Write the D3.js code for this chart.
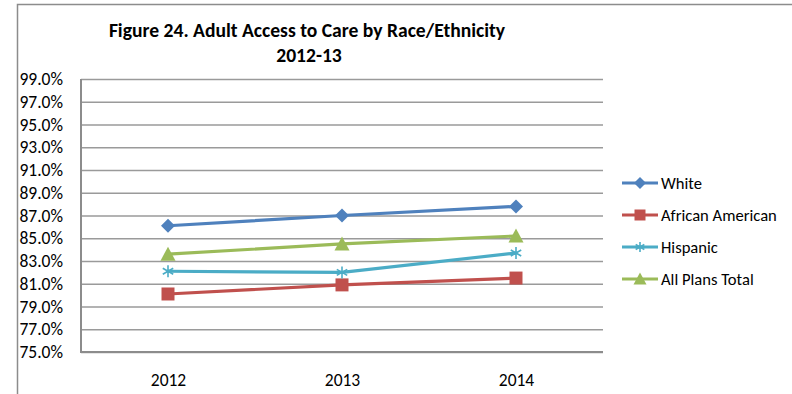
<!DOCTYPE html>
<html>
<head>
<meta charset="utf-8">
<script src="https://cdn.jsdelivr.net/npm/d3@7"></script>
<style>
  body { margin: 0; background: #fff; }
  svg { display: block; font-family: Carlito, Lato, "Open Sans", sans-serif; }
</style>
</head>
<body>
<svg id="chart" width="792" height="394"></svg>
<script>
// chart data
var years = ["2012", "2013", "2014"];
var white = [86.1, 87.0, 87.8];
var africanAmerican = [80.1, 80.9, 81.5];
var hispanic = [82.1, 82.0, 83.7];
var allPlans = [83.6, 84.5, 85.2];
var yTicks = [75, 77, 79, 81, 83, 85, 87, 89, 91, 93, 95, 97, 99];
var seriesNames = ["White", "African American", "Hispanic", "All Plans Total"];

var series = [
  {name: seriesNames[0], values: white, color: "#4F81BD", marker: "diamond"},
  {name: seriesNames[1], values: africanAmerican, color: "#C0504D", marker: "square"},
  {name: seriesNames[2], values: hispanic, color: "#4BACC6", marker: "star"},
  {name: seriesNames[3], values: allPlans, color: "#9BBB59", marker: "triangle"}
];

var svg = d3.select("#chart");
var margin = {top: 79, right: 189, bottom: 42, left: 81},
    width = 792 - margin.left - margin.right,
    height = 394 - margin.top - margin.bottom;

// outer frame (left + top only visible)
svg.append("path")
    .attr("d", "M17.5,394 L17.5,4.5 L792,4.5")
    .attr("fill", "none")
    .attr("stroke", "#8c8c8c")
    .attr("stroke-width", 1.5);

// title
var title = svg.append("text")
    .attr("text-anchor", "middle")
    .attr("font-weight", "bold")
    .attr("font-size", 19.6)
    .attr("fill", "#000");
title.append("tspan").attr("x", 307).attr("y", 37).text("Figure 24. Adult Access to Care by Race/Ethnicity");
title.append("tspan").attr("x", 309).attr("y", 62).text("2012-13");

var g = svg.append("g").attr("transform", "translate(" + margin.left + "," + margin.top + ")");

var x = d3.scalePoint().domain(years).range([0, width]).padding(0.5);
var y = d3.scaleLinear().domain([75, 99]).range([height, 0]);

var yAxis = d3.axisLeft(y).tickValues(yTicks).tickSize(-width)
    .tickFormat(function(d) { return d3.format(".1f")(d) + "%"; });
var xAxis = d3.axisBottom(x).tickSize(0);

g.append("g").call(function(a) {
  a.call(yAxis);
  a.select(".domain").remove();
  a.selectAll(".tick line").attr("stroke", "#9a9a9a").attr("stroke-width", 1.5);
  a.selectAll(".tick text").attr("x", -18).attr("fill", "#000")
      .attr("font-size", 17.5).attr("font-family", "Carlito, Lato, sans-serif");
});

g.append("g").attr("transform", "translate(0," + height + ")").call(function(a) {
  a.call(xAxis);
  a.select(".domain").remove();
  a.selectAll(".tick text").attr("y", 22).attr("fill", "#000")
      .attr("font-size", 17.5).attr("font-family", "Carlito, Lato, sans-serif");
});

// plot axes lines
g.append("path")
    .attr("d", "M0,0 L0," + height + " L" + width + "," + height)
    .attr("fill", "none")
    .attr("stroke", "#8c8c8c")
    .attr("stroke-width", 2);

function markerPath(type, s) {
  if (type === "diamond") return "M0," + (-s) + " L" + s + ",0 L0," + s + " L" + (-s) + ",0 Z";
  if (type === "square") return "M" + (-s) + "," + (-s) + " h" + 2 * s + " v" + 2 * s + " h" + (-2 * s) + " Z";
  if (type === "triangle") return "M0," + (-s - 1) + " L" + (s + 1) + "," + (s) + " L" + (-s - 1) + "," + (s) + " Z";
  // asterisk
  var a = s * 0.87;
  return "M0," + (-s) + " V" + s + " M" + (-a) + "," + (-s / 2) + " L" + a + "," + (s / 2) +
         " M" + (-a) + "," + (s / 2) + " L" + a + "," + (-s / 2);
}
function drawMarker(sel, d, size) {
  sel.append("path")
      .attr("d", markerPath(d.marker, size))
      .attr("fill", d.marker === "star" ? "none" : d.color)
      .attr("stroke", d.color)
      .attr("stroke-width", d.marker === "star" ? 1.6 : 0);
}
var markerSize = {diamond: 7, square: 6.5, triangle: 6.5, star: 6};

var line = d3.line()
    .x(function(d, i) { return x(years[i]); })
    .y(function(d) { return y(d); });

series.forEach(function(s) {
  g.append("path")
      .datum(s.values)
      .attr("fill", "none")
      .attr("stroke", s.color)
      .attr("stroke-width", 3.2)
      .attr("stroke-linejoin", "round")
      .attr("d", line);
  s.values.forEach(function(v, i) {
    var m = g.append("g").attr("transform", "translate(" + x(years[i]) + "," + y(v) + ")");
    drawMarker(m, s, markerSize[s.marker]);
  });
});

// legend
var legend = svg.append("g").attr("transform", "translate(622,183)");
series.forEach(function(s, i) {
  var row = legend.append("g").attr("transform", "translate(0," + (i * 32) + ")");
  row.append("line").attr("x1", 0).attr("x2", 36)
      .attr("stroke", s.color).attr("stroke-width", 3.2);
  var m = row.append("g").attr("transform", "translate(18,0)");
  drawMarker(m, s, markerSize[s.marker] - 1);
  row.append("text").attr("x", 39).attr("y", 6)
      .attr("font-size", 16.6).attr("fill", "#000").text(s.name);
});
</script>
</body>
</html>
